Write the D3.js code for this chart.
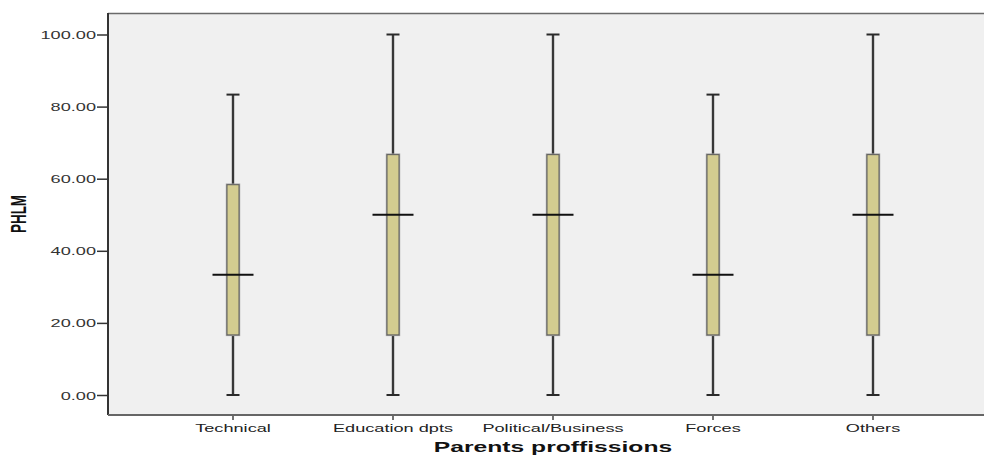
<!DOCTYPE html>
<html>
<head>
<meta charset="utf-8">
<script src="https://cdn.jsdelivr.net/npm/d3@7"></script>
<style>
  html, body { margin: 0; padding: 0; background: #ffffff; }
  svg { display: block; }
</style>
</head>
<body>
<svg id="chart" width="984" height="456"></svg>
<script>
// Parent profession groups and the five-number summary of PHLM for each
const categories = ["Technical", "Education dpts", "Political/Business", "Forces", "Others"];
const whiskerLow  = [0, 0, 0, 0, 0];
const quartile1   = [16.67, 16.67, 16.67, 16.67, 16.67];
const medians     = [33.33, 50, 50, 33.33, 50];
const quartile3   = [58.33, 66.67, 66.67, 66.67, 66.67];
const whiskerHigh = [83.33, 100, 100, 83.33, 100];
const yTicks = [0, 20, 40, 60, 80, 100];

const boxes = categories.map((c, i) => ({
  cat: c, lo: whiskerLow[i], q1: quartile1[i], med: medians[i], q3: quartile3[i], hi: whiskerHigh[i]
}));

const frame = { left: 108, top: 13, right: 990, bottom: 415 };
const stretch = 1.65; // wide text rendering of the labels

const svg = d3.select("#chart");

const x = d3.scaleBand().domain(categories).range([153, 953]);
const y = d3.scaleLinear().domain([0, 100]).range([395, 34.5]);
const cx = d => x(d) + x.bandwidth() / 2;

// plot area
svg.append("rect")
  .attr("x", frame.left).attr("y", frame.top)
  .attr("width", frame.right - frame.left).attr("height", frame.bottom - frame.top)
  .attr("fill", "#f0f0f0");
svg.append("line")
  .attr("x1", frame.left).attr("x2", frame.right)
  .attr("y1", frame.top + 0.5).attr("y2", frame.top + 0.5)
  .attr("stroke", "#6a6a6a").attr("stroke-width", 1.5);

// boxes
const g = svg.append("g");
const box = g.selectAll("g.box").data(boxes).join("g").attr("class", "box");

// whiskers (soft halo + dark core)
[["#b5b5b5", 3.2], ["#2a2a2a", 1.8]].forEach(([col, sw]) => {
  box.append("line")
    .attr("x1", d => cx(d.cat)).attr("x2", d => cx(d.cat))
    .attr("y1", d => y(d.hi)).attr("y2", d => y(d.q3))
    .attr("stroke", col).attr("stroke-width", sw);
  box.append("line")
    .attr("x1", d => cx(d.cat)).attr("x2", d => cx(d.cat))
    .attr("y1", d => y(d.q1)).attr("y2", d => y(d.lo))
    .attr("stroke", col).attr("stroke-width", sw);
});
// whisker caps
["hi", "lo"].forEach(k => {
  box.append("line")
    .attr("x1", d => cx(d.cat) - 6.5).attr("x2", d => cx(d.cat) + 6.5)
    .attr("y1", d => y(d[k])).attr("y2", d => y(d[k]))
    .attr("stroke", "#2a2a2a").attr("stroke-width", 2);
});

// interquartile box
box.append("rect")
  .attr("x", d => cx(d.cat) - 6).attr("width", 12)
  .attr("y", d => y(d.q3)).attr("height", d => y(d.q1) - y(d.q3))
  .attr("fill", "#d3cc90").attr("stroke", "#a0a0a0").attr("stroke-width", 2.4);
box.append("rect")
  .attr("x", d => cx(d.cat) - 6).attr("width", 12)
  .attr("y", d => y(d.q3)).attr("height", d => y(d.q1) - y(d.q3))
  .attr("fill", "#d3cc90").attr("stroke", "#5c5c5c").attr("stroke-width", 1);

// medians
box.append("line")
  .attr("x1", d => cx(d.cat) - 20.5).attr("x2", d => cx(d.cat) + 20.5)
  .attr("y1", d => y(d.med)).attr("y2", d => y(d.med))
  .attr("stroke", "#111").attr("stroke-width", 2);

// y axis
const yAxis = svg.append("g")
  .attr("transform", `translate(${frame.left},0)`)
  .call(d3.axisLeft(y).tickValues(yTicks).tickFormat(d3.format(".2f")).tickSize(11).tickPadding(0));
yAxis.select(".domain").remove();
yAxis.selectAll(".tick line").attr("stroke", "#333").attr("stroke-width", 1.5);
yAxis.selectAll(".tick text")
  .attr("x", null).attr("dy", null)
  .attr("transform", `translate(-12,4) scale(${stretch},1)`)
  .attr("font-family", "Liberation Sans, Arial, sans-serif")
  .attr("font-size", 11).attr("fill", "#333");
svg.append("line")
  .attr("x1", frame.left).attr("x2", frame.left)
  .attr("y1", frame.top).attr("y2", frame.bottom)
  .attr("stroke", "#333").attr("stroke-width", 2);

// x axis
const xAxis = svg.append("g")
  .attr("transform", `translate(0,${frame.bottom})`)
  .call(d3.axisBottom(x).tickSize(5).tickPadding(0));
xAxis.select(".domain").remove();
xAxis.selectAll(".tick line").attr("stroke", "#444").attr("stroke-width", 1.5);
xAxis.selectAll(".tick text")
  .attr("y", null).attr("dy", null)
  .attr("transform", `translate(0,17) scale(${stretch},1)`)
  .attr("font-family", "Liberation Sans, Arial, sans-serif")
  .attr("font-size", 11).attr("fill", "#222");
svg.append("line")
  .attr("x1", frame.left).attr("x2", frame.right)
  .attr("y1", frame.bottom).attr("y2", frame.bottom)
  .attr("stroke", "#666").attr("stroke-width", 2);

// axis titles
svg.append("text")
  .attr("transform", `translate(553,452) scale(1.7,1)`)
  .attr("text-anchor", "middle")
  .attr("font-family", "Liberation Sans, Arial, sans-serif")
  .attr("font-weight", "bold").attr("font-size", 14.5).attr("fill", "#111")
  .text("Parents proffissions");
svg.append("text")
  .attr("transform", `translate(26,${(frame.top + frame.bottom) / 2}) scale(${stretch},1) rotate(-90)`)
  .attr("text-anchor", "middle")
  .attr("font-family", "Liberation Sans, Arial, sans-serif")
  .attr("font-weight", "bold").attr("font-size", 13.5).attr("fill", "#111")
  .text("PHLM");
</script>
</body>
</html>
